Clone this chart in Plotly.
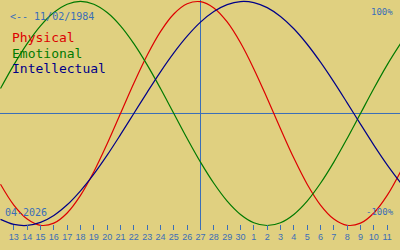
import plotly.graph_objects as go

# Day positions (index relative to first labelled day) and labels
day_index = list(range(-1, 30))
tick_index = list(range(0, 29))
tick_labels = [str(d) for d in list(range(13, 31)) + list(range(1, 12))]
today_index = 14

# Values in percent (one per day, index -1 .. 29)
physical = [-63.1, -81.7, -94.2, -99.8, -97.9, -88.8, -73.1, -52.0, -27.0, 0.0,
            27.0, 52.0, 73.1, 88.8, 97.9, 99.8, 94.2, 81.7, 63.1, 39.8,
            13.6, -13.6, -39.8, -63.1, -81.7, -94.2, -99.8, -97.9, -88.8, -73.1,
            -52.0]
emotional = [22.3, 43.4, 62.3, 78.2, 90.1, 97.5, 100.0, 97.5, 90.1, 78.2,
             62.3, 43.4, 22.3, 0.0, -22.3, -43.4, -62.3, -78.2, -90.1, -97.5,
             -100.0, -97.5, -90.1, -78.2, -62.3, -43.4, -22.3, 0.0, 22.3, 43.4,
             62.3]
intellectual = [-94.5, -99.0, -99.9, -97.2, -91.0, -81.5, -69.0, -54.1, -37.2, -18.9,
                0.0, 18.9, 37.2, 54.1, 69.0, 81.5, 91.0, 97.2, 99.9, 99.0,
                94.5, 86.6, 75.6, 61.8, 45.8, 28.2, 9.5, -9.5, -28.2, -45.8,
                -61.8]

series_names = ["Physical", "Emotional", "Intellectual"]
series_colors = ["#DD0000", "#007A00", "#000088"]
birth_text = "<-- 11/02/1984"
month_text = "04-2026"

BG = "#E0D080"
BLUE = "#3A6EB8"
MONO = "DejaVu Sans Mono"

fig = go.Figure()
for name, vals, col in zip(series_names, [physical, emotional, intellectual], series_colors):
    fig.add_trace(go.Scatter(x=day_index, y=vals, mode="lines", name=name,
                             line=dict(color=col, width=1.2, shape="spline"),
                             hoverinfo="skip"))

# zero line and today line
fig.add_shape(type="line", xref="paper", x0=0, x1=1, yref="y", y0=0, y1=0,
              line=dict(color=BLUE, width=1), layer="below")
fig.add_shape(type="line", xref="x", x0=today_index, x1=today_index,
              yref="paper", y0=0.017, y1=1, line=dict(color=BLUE, width=1), layer="below")

# legend-like texts
ys = [38, 53, 68]
for name, col, yp in zip(series_names, series_colors, ys):
    fig.add_annotation(text=name, xref="paper", yref="paper", x=10 / 400, y=1 - yp / 230,
                       xanchor="left", yanchor="middle", showarrow=False,
                       font=dict(family=MONO, size=13, color=col))
fig.add_annotation(text=birth_text.replace("<", "&lt;"), xref="paper", yref="paper",
                   x=8 / 400, y=1 - 16 / 230, xanchor="left", yanchor="middle",
                   showarrow=False, font=dict(family=MONO, size=10, color=BLUE))
fig.add_annotation(text="100%", xref="paper", yref="paper", x=395 / 400, y=1 - 12 / 230,
                   xanchor="right", yanchor="middle", showarrow=False,
                   font=dict(family=MONO, size=9, color=BLUE))
fig.add_annotation(text="-100%", xref="paper", yref="paper", x=396 / 400, y=1 - 212 / 230,
                   xanchor="right", yanchor="middle", showarrow=False,
                   font=dict(family=MONO, size=9, color=BLUE))
fig.add_annotation(text=month_text, xref="paper", yref="paper", x=3 / 400, y=1 - 212 / 230,
                   xanchor="left", yanchor="middle", showarrow=False,
                   font=dict(family=MONO, size=10, color=BLUE))

fig.update_layout(
    width=400, height=250,
    margin=dict(l=0, r=0, t=0, b=20),
    paper_bgcolor=BG, plot_bgcolor=BG,
    showlegend=False,
    xaxis=dict(range=[-1.0375, 28.9625], tickmode="array", tickvals=tick_index, ticktext=tick_labels,
               ticks="inside", ticklen=5, tickwidth=1, tickcolor=BLUE,
               showgrid=False, zeroline=False, showline=False,
               tickfont=dict(family="Liberation Sans", size=9, color=BLUE)),
    yaxis=dict(range=[-104.0, 101.3], showgrid=False, zeroline=False, showline=False,
               showticklabels=False, ticks=""),
)

fig.write_html("out.html")
